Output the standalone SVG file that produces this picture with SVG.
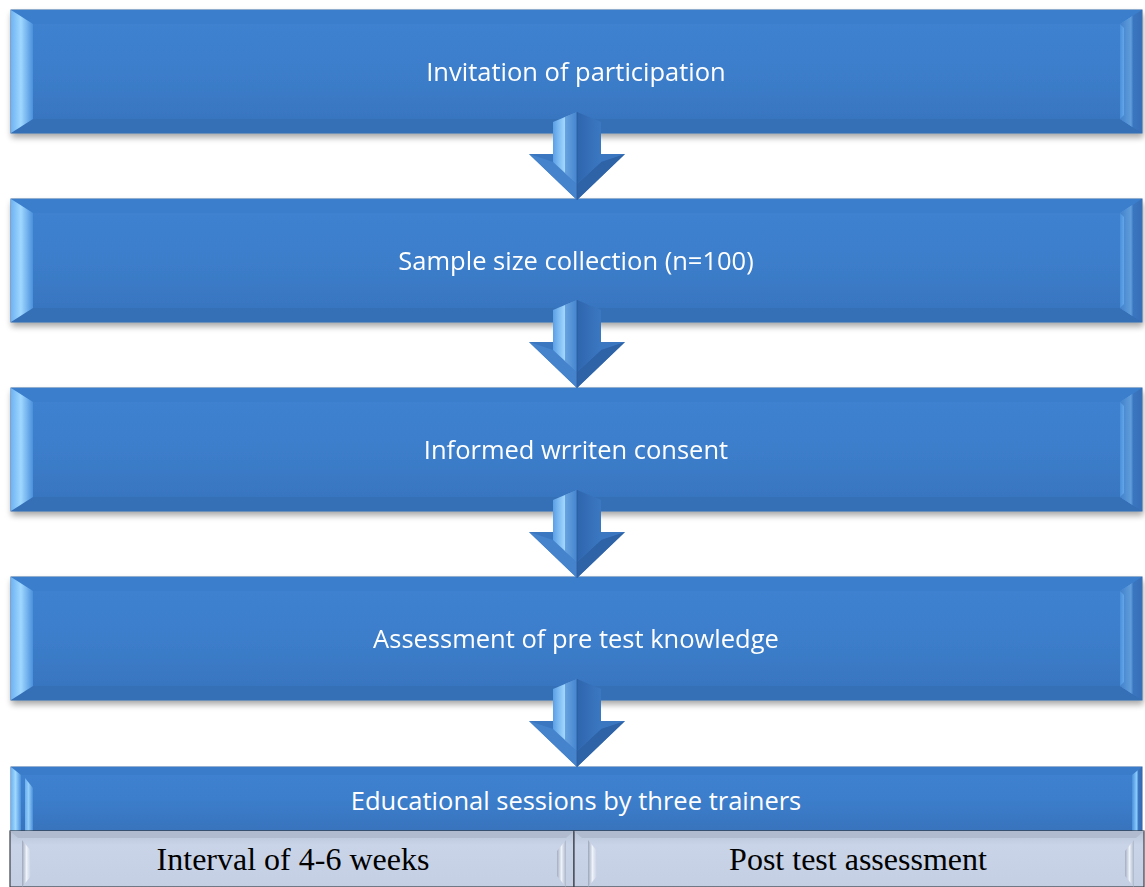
<svg xmlns="http://www.w3.org/2000/svg" width="1145" height="887" viewBox="0 0 1145 887">
  <defs>
    <linearGradient id="face" x1="0" y1="0" x2="0" y2="1">
      <stop offset="0" stop-color="#3f82d1"/>
      <stop offset="0.5" stop-color="#3c7ecb"/>
      <stop offset="1" stop-color="#3873bd"/>
    </linearGradient>
    <linearGradient id="bevL" x1="0" y1="0" x2="1" y2="0">
      <stop offset="0" stop-color="#6fb3f2"/>
      <stop offset="0.45" stop-color="#9fd8ff"/>
      <stop offset="1" stop-color="#4a90dc"/>
    </linearGradient>
    <linearGradient id="bevR" x1="0" y1="0" x2="1" y2="0">
      <stop offset="0" stop-color="#4a8fdb"/>
      <stop offset="0.5" stop-color="#8fcfff"/>
      <stop offset="0.6" stop-color="#3a78c4"/>
      <stop offset="1" stop-color="#3669ad"/>
    </linearGradient>
    <linearGradient id="greyFace" x1="0" y1="0" x2="0" y2="1">
      <stop offset="0" stop-color="#b7c3d8"/>
      <stop offset="0.25" stop-color="#c9d4e8"/>
      <stop offset="1" stop-color="#c4cfe4"/>
    </linearGradient>
    <linearGradient id="greyBev" x1="0" y1="0" x2="1" y2="0">
      <stop offset="0" stop-color="#9aa6bb"/>
      <stop offset="0.5" stop-color="#eef2f9"/>
      <stop offset="1" stop-color="#c4cfe4"/>
    </linearGradient>
    <linearGradient id="greyBevR" x1="0" y1="0" x2="1" y2="0">
      <stop offset="0" stop-color="#a2aec3"/>
      <stop offset="0.5" stop-color="#eef2f9"/>
      <stop offset="1" stop-color="#aab5c9"/>
    </linearGradient>
    <linearGradient id="shaftL" x1="0" y1="0" x2="1" y2="0">
      <stop offset="0" stop-color="#5a9fe6"/>
      <stop offset="0.5" stop-color="#a4d9ff"/>
      <stop offset="1" stop-color="#4e8fd8"/>
    </linearGradient>
    <linearGradient id="shaftR" x1="0" y1="0" x2="1" y2="0">
      <stop offset="0" stop-color="#2f66ad"/>
      <stop offset="1" stop-color="#3b78c2"/>
    </linearGradient>
    <filter id="shadow" x="-5%" y="-20%" width="110%" height="150%">
      <feGaussianBlur in="SourceAlpha" stdDeviation="3"/>
      <feOffset dx="1" dy="4"/>
      <feComponentTransfer><feFuncA type="linear" slope="0.35"/></feComponentTransfer>
      <feMerge><feMergeNode/><feMergeNode in="SourceGraphic"/></feMerge>
    </filter>
    <!-- bevelled blue step box, 1131 x 123 -->
    <g id="stepBox">
      <rect x="0" y="0" width="1131" height="123" fill="url(#face)" stroke="#2e62a3" stroke-width="1"/>
      <polygon points="0,0 1131,0 1109,14 22,14" fill="#3b7ecc"/>
      <polygon points="0,123 1131,123 1109,109 22,109" fill="#366fb7"/>
      <polygon points="0,0 22,14 22,109 0,123" fill="url(#bevL)"/>
      <polygon points="1131,0 1109,14 1109,109 1131,123" fill="url(#bevR)"/>
      <polygon points="1109,14 1131,0 1131,123 1109,109 1113,105 1113,18" fill="#3a74bd" opacity="0.55"/>
    </g>
    <!-- bevelled down arrow, tip at (0,88) -->
    <g id="downArrow">
      <polygon points="-48,42 48,42 0,88" fill="#3b77c1"/>
      <polygon points="-48,42 0,88 0,72 -24,50" fill="#4584cd"/>
      <polygon points="48,42 0,88 0,72 24,50" fill="#2f63a7"/>
      <polygon points="-24,10 0,0 0,72 -24,50" fill="url(#shaftL)"/>
      <polygon points="24,10 0,0 0,72 24,50" fill="url(#shaftR)"/>
      <polygon points="-12,5 0,0 0,72 -12,61" fill="#3f7fca" opacity="0.6"/>
      <line x1="0" y1="0" x2="0" y2="88" stroke="#2c5c9c" stroke-width="0.8"/>
    </g>
  </defs>
  <style>
    .lbl { font-family: "Open Sans", "Liberation Sans", sans-serif; font-size: 25.5px; fill: #ffffff; text-anchor: middle; }
    .sub { font-family: "Liberation Serif", "Times New Roman", serif; font-size: 32px; fill: #000000; text-anchor: middle; }
  </style>

  <g id="node-invitation" filter="url(#shadow)">
    <use href="#stepBox" x="11" y="10"/>
    <text class="lbl" x="576" y="81">Invitation of participation</text>
  </g>
  <g id="node-sample" filter="url(#shadow)">
    <use href="#stepBox" x="11" y="199"/>
    <text class="lbl" x="576" y="270">Sample size collection (n=100)</text>
  </g>
  <g id="node-consent" filter="url(#shadow)">
    <use href="#stepBox" x="11" y="388"/>
    <text class="lbl" x="576" y="459">Informed wrriten consent</text>
  </g>
  <g id="node-pretest" filter="url(#shadow)">
    <use href="#stepBox" x="11" y="577"/>
    <text class="lbl" x="576" y="648">Assessment of pre test knowledge</text>
  </g>

  <g id="node-education">
    <rect x="11" y="767" width="1131" height="64" fill="url(#face)" stroke="#2e62a3" stroke-width="1"/>
    <polygon points="11,767 1142,767 1132,775 21,775" fill="#3a7cc9"/>
    <polygon points="11,767 21,775 21,831 11,831" fill="url(#bevL)"/>
    <polygon points="25,778 33,788 33,831 25,831" fill="url(#bevL)" opacity="0.9"/>
    <polygon points="1142,767 1132,775 1132,831 1142,831" fill="url(#bevR)"/>
    <text class="lbl" x="576" y="810">Educational sessions by three trainers</text>
  </g>

  <g id="node-interval">
    <rect x="10" y="831" width="564" height="56" fill="url(#greyFace)" stroke="#3b3f46" stroke-width="1.2"/>
    <polygon points="10,831 574,831 566,838 18,838" fill="#b0bbcf"/>
    <polygon points="22,840 31,851 31,876 22,887" fill="url(#greyBev)"/>
    <polygon points="566,840 557,851 557,876 566,887" fill="url(#greyBevR)"/>
    <text class="sub" x="293" y="870">Interval of 4-6 weeks</text>
  </g>
  <g id="node-posttest">
    <rect x="574" y="831" width="570" height="56" fill="url(#greyFace)" stroke="#3b3f46" stroke-width="1.2"/>
    <polygon points="574,831 1144,831 1136,838 582,838" fill="#b0bbcf"/>
    <polygon points="588,840 597,851 597,876 588,887" fill="url(#greyBev)"/>
    <polygon points="1134,840 1125,851 1125,876 1134,887" fill="url(#greyBevR)"/>
    <text class="sub" x="858" y="870">Post test assessment</text>
  </g>

  <g id="connectors">
    <use href="#downArrow" x="577" y="112"/>
    <use href="#downArrow" x="577" y="300"/>
    <use href="#downArrow" x="577" y="490"/>
    <use href="#downArrow" x="577" y="679"/>
  </g>
</svg>
